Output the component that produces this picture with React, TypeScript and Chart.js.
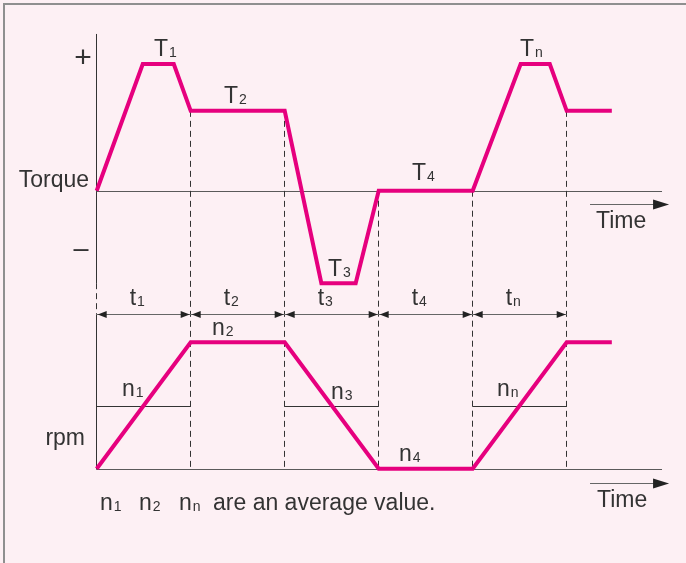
import React, { useEffect, useRef } from "react";
import { Chart, registerables } from "chart.js";

Chart.register(...registerables);

// ---- data (time in units of one interval t; torque and rpm in relative units) ----
const boundaries = [0, 1, 2, 3, 4, 5];
const intervalLabels = ["t", "t", "t", "t", "t"];
const intervalSubs = ["1", "2", "3", "4", "n"];
const torqueTime = [0, 0.49, 0.82, 1, 2, 2.39, 2.755, 3, 4, 4.51, 4.82, 5, 5.48];
const torqueValue = [0, 1, 1, 0.63, 0.63, -0.73, -0.73, 0, 0, 1, 1, 0.63, 0.63];
const rpmTime = [0, 1, 2, 3, 4, 5, 5.48];
const rpmValue = [0, 1, 1, 0, 0, 1, 1];
const avgStart = [0, 2, 4];
const avgEnd = [1, 3, 5];
const avgValue = [0.5, 0.5, 0.5];

const PINK = "#e6007e";
const TEXT = "#333333";
const FONT = '"Liberation Sans", Arial, sans-serif';

function label(ctx: CanvasRenderingContext2D, main: string, sub: string, x: number, y: number, size = 23, subSize = 14) {
  ctx.font = `${size}px ${FONT}`;
  ctx.fillStyle = TEXT;
  ctx.textAlign = "left";
  ctx.textBaseline = "alphabetic";
  ctx.fillText(main, x, y);
  if (sub) {
    const w = ctx.measureText(main).width;
    ctx.font = `${subSize}px ${FONT}`;
    ctx.fillText(sub, x + w + 1, y + 1);
  }
}

function arrowHead(ctx: CanvasRenderingContext2D, tipX: number, y: number, dir: number, len = 9, half = 3.5) {
  ctx.beginPath();
  ctx.moveTo(tipX, y);
  ctx.lineTo(tipX - dir * len, y - half);
  ctx.lineTo(tipX - dir * len, y + half);
  ctx.closePath();
  ctx.fillStyle = "#222";
  ctx.fill();
}

const decorPlugin = {
  id: "decor",
  beforeDraw(chart: any) {
    const ctx = chart.ctx as CanvasRenderingContext2D;
    ctx.save();
    ctx.fillStyle = "#fdf0f4";
    ctx.fillRect(0, 0, chart.width, chart.height);
    ctx.strokeStyle = "#8f8f8f";
    ctx.lineWidth = 2;
    ctx.beginPath();
    ctx.moveTo(4, chart.height);
    ctx.lineTo(4, 4);
    ctx.lineTo(chart.width, 4);
    ctx.stroke();
    ctx.restore();
  },
  beforeDatasetsDraw(chart: any) {
    const ctx = chart.ctx as CanvasRenderingContext2D;
    const xs = chart.scales.x;
    const yT = chart.scales.yT;
    const yR = chart.scales.yR;
    const X = (v: number) => xs.getPixelForValue(v);
    const x0 = Math.round(X(0)) - 0.5;
    const tZero = Math.round(yT.getPixelForValue(0)) + 0.5;
    const rZero = Math.round(yR.getPixelForValue(0)) + 0.5;
    const axisEnd = X(6.014);
    const arrowRow = Math.round(yR.getPixelForValue(1.226)) + 0.5;
    ctx.save();
    ctx.lineWidth = 1;

    // vertical axis
    ctx.strokeStyle = "#333";
    ctx.beginPath();
    ctx.moveTo(x0, yT.getPixelForValue(1.237));
    ctx.lineTo(x0, yT.getPixelForValue(-0.73));
    ctx.moveTo(x0, arrowRow);
    ctx.lineTo(x0, rZero);
    ctx.stroke();

    // horizontal axes
    ctx.strokeStyle = "#5a5a5a";
    ctx.beginPath();
    ctx.moveTo(x0, tZero);
    ctx.lineTo(axisEnd, tZero);
    ctx.moveTo(x0, rZero);
    ctx.lineTo(axisEnd, rZero);
    ctx.stroke();

    // dashed boundaries
    ctx.strokeStyle = "#333";
    ctx.setLineDash([6, 4]);
    ctx.beginPath();
    ctx.moveTo(x0, yT.getPixelForValue(-0.73));
    ctx.lineTo(x0, arrowRow);
    boundaries.slice(1).forEach((b) => {
      let top = -Infinity;
      torqueTime.forEach((t, i) => {
        if (Math.abs(t - b) < 1e-6) top = Math.max(top, torqueValue[i]);
      });
      const bx = Math.round(X(b)) - 0.5;
      ctx.moveTo(bx, yT.getPixelForValue(top));
      ctx.lineTo(bx, rZero);
    });
    ctx.stroke();
    ctx.setLineDash([]);

    // average rpm lines
    ctx.strokeStyle = "#333";
    ctx.beginPath();
    avgStart.forEach((s, i) => {
      const y = Math.round(yR.getPixelForValue(avgValue[i])) + 0.5;
      ctx.moveTo(X(s), y);
      ctx.lineTo(X(avgEnd[i]), y);
    });
    ctx.stroke();

    // interval arrows
    ctx.strokeStyle = "#666";
    ctx.beginPath();
    ctx.moveTo(X(0), arrowRow);
    ctx.lineTo(X(5), arrowRow);
    ctx.stroke();
    for (let i = 0; i < boundaries.length - 1; i++) {
      const a = X(boundaries[i]);
      const b = X(boundaries[i + 1]);
      arrowHead(ctx, a + 1, arrowRow, -1);
      arrowHead(ctx, b - 1, arrowRow, 1);
    }

    // time arrows
    const tyT = Math.round(yT.getPixelForValue(-0.105)) + 0.5;
    const tyR = Math.round(yR.getPixelForValue(-0.113)) + 0.5;
    [tyT, tyR].forEach((y) => {
      ctx.strokeStyle = "#666";
      ctx.beginPath();
      ctx.moveTo(X(5.248), y);
      ctx.lineTo(X(6.0), y);
      ctx.stroke();
      arrowHead(ctx, X(6.089), y, 1, 16, 5);
    });
    ctx.restore();
  },
  afterDraw(chart: any) {
    const ctx = chart.ctx as CanvasRenderingContext2D;
    const xs = chart.scales.x;
    ctx.save();
    // y labels
    ctx.font = `23px ${FONT}`;
    ctx.fillStyle = TEXT;
    ctx.textAlign = "right";
    ctx.fillText("Torque", 89, 187);
    ctx.fillText("rpm", 85, 445);
    ctx.font = `30px ${FONT}`;
    ctx.textAlign = "center";
    ctx.fillText("+", 83, 67);
    ctx.font = `27px ${FONT}`;
    ctx.fillText("–", 81, 257);

    // torque labels
    label(ctx, "T", "1", 154, 56);
    label(ctx, "T", "2", 224, 103);
    label(ctx, "T", "3", 328, 276);
    label(ctx, "T", "4", 412, 180);
    label(ctx, "T", "n", 520, 56);

    // interval labels
    for (let i = 0; i < intervalLabels.length; i++) {
      const cx = (xs.getPixelForValue(boundaries[i]) + xs.getPixelForValue(boundaries[i + 1])) / 2;
      label(ctx, intervalLabels[i], intervalSubs[i], cx - 14, 305);
    }

    // rpm labels
    label(ctx, "n", "1", 122, 396);
    label(ctx, "n", "2", 212, 335);
    label(ctx, "n", "3", 331, 399);
    label(ctx, "n", "4", 399, 461);
    label(ctx, "n", "n", 497, 396);

    // time labels
    label(ctx, "Time", "", 596, 228);
    label(ctx, "Time", "", 597, 507);

    // footnote
    label(ctx, "n", "1", 100, 510);
    label(ctx, "n", "2", 139, 510);
    label(ctx, "n", "n", 179, 510);
    label(ctx, "are an average value.", "", 213, 510);
    ctx.restore();
  },
};

export default function App() {
  const ref = useRef<HTMLCanvasElement>(null);
  useEffect(() => {
    document.body.style.margin = "0";
    const canvas = ref.current!;
    const chart = new Chart(canvas, {
      type: "line",
      data: {
        datasets: [
          {
            label: "Torque",
            data: torqueTime.map((t, i) => ({ x: t, y: torqueValue[i] })),
            yAxisID: "yT",
            borderColor: PINK,
            borderWidth: 4,
            pointRadius: 0,
            tension: 0,
            fill: false,
          },
          {
            label: "rpm",
            data: rpmTime.map((t, i) => ({ x: t, y: rpmValue[i] })),
            yAxisID: "yR",
            borderColor: PINK,
            borderWidth: 4,
            pointRadius: 0,
            tension: 0,
            fill: false,
          },
        ],
      },
      options: {
        animation: false,
        responsive: false,
        events: [],
        layout: { padding: 0 },
        plugins: { legend: { display: false }, tooltip: { enabled: false }, title: { display: false } },
        scales: {
          x: { type: "linear", display: false, min: -1.0287, max: 6.2691 },
          yT: { type: "linear", display: false, min: -2.9385, max: 1.5051 },
          yR: { type: "linear", display: false, min: -0.746, max: 3.708 },
        },
      },
      plugins: [decorPlugin],
    });
    return () => chart.destroy();
  }, []);
  return <canvas ref={ref} width={686} height={563} style={{ display: "block" }} />;
}
